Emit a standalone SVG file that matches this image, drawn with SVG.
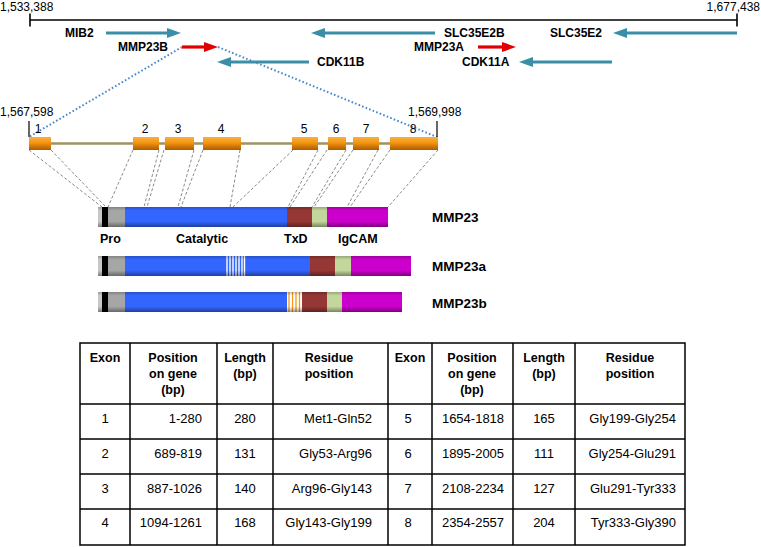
<svg xmlns="http://www.w3.org/2000/svg" width="761" height="547" viewBox="0 0 761 547">
<style>
text{font-family:"Liberation Sans",Arial,sans-serif;fill:#000}
.num{font-size:12px}
.gl{font-size:12px;font-weight:bold}
.dl{font-size:12.5px;font-weight:bold}
.pl{font-size:13.5px;font-weight:bold}
.th{font-size:12.5px;font-weight:bold;text-anchor:middle}
.td{font-size:13px}
.c{text-anchor:middle}
.r{text-anchor:end}
.teal{stroke:#3a8ea6;stroke-width:3.2;fill:none}
.red{stroke:#e00000;stroke-width:3.2;fill:none}
.dot{stroke:#4a88cc;stroke-width:2;stroke-dasharray:1.6 2.2;fill:none}
.dash{stroke:#8a8a8a;stroke-width:1;stroke-dasharray:3 2;fill:none}
.exon{fill:url(#og)}
.grid{stroke:#000;stroke-width:1.5;fill:none}
</style>
<defs>
<marker id="mt" markerUnits="userSpaceOnUse" markerWidth="14" markerHeight="10" refX="4" refY="5" orient="auto"><path d="M0,0 L14,5 L0,10 Z" fill="#3a8ea6"/></marker>
<marker id="mr" markerUnits="userSpaceOnUse" markerWidth="14" markerHeight="10" refX="4" refY="5" orient="auto"><path d="M0,0 L14,5 L0,10 Z" fill="#e00000"/></marker>
<linearGradient id="og" x1="0" y1="0" x2="0" y2="1"><stop offset="0" stop-color="#f8b040"/><stop offset="0.45" stop-color="#f39510"/><stop offset="1" stop-color="#b05a00"/></linearGradient>
<linearGradient id="sh" x1="0" y1="0" x2="0" y2="1"><stop offset="0" stop-color="#000" stop-opacity="0.22"/><stop offset="0.18" stop-color="#000" stop-opacity="0"/><stop offset="0.72" stop-color="#000" stop-opacity="0"/><stop offset="1" stop-color="#000" stop-opacity="0.38"/></linearGradient>
</defs>

<g id="scale">
<line x1="30" y1="20" x2="737" y2="20" stroke="#000" stroke-width="1.6"/>
<line x1="30" y1="13.5" x2="30" y2="26.5" stroke="#000" stroke-width="1.6"/>
<line x1="737" y1="13.5" x2="737" y2="26.5" stroke="#000" stroke-width="1.6"/>
<text class="num" x="0" y="10.5">1,533,388</text>
<text class="num r" x="760" y="10.5">1,677,438</text>
</g>

<g id="gene-MIB2"><line class="teal" x1="106" y1="33" x2="171" y2="33" marker-end="url(#mt)"/><text class="gl" x="65" y="37">MIB2</text></g>
<g id="gene-MMP23B"><line class="red" x1="182" y1="47" x2="208" y2="47" marker-end="url(#mr)"/><text class="gl" x="118" y="51">MMP23B</text></g>
<g id="gene-CDK11B"><line class="teal" x1="309" y1="62" x2="227" y2="62" marker-end="url(#mt)"/><text class="gl" x="317" y="66">CDK11B</text></g>
<g id="gene-SLC35E2B"><line class="teal" x1="435" y1="33" x2="321" y2="33" marker-end="url(#mt)"/><text class="gl" x="444" y="37">SLC35E2B</text></g>
<g id="gene-SLC35E2"><line class="teal" x1="737" y1="33" x2="623" y2="33" marker-end="url(#mt)"/><text class="gl" x="550" y="37">SLC35E2</text></g>
<g id="gene-MMP23A"><line class="red" x1="478" y1="47" x2="506" y2="47" marker-end="url(#mr)"/><text class="gl" x="414" y="51">MMP23A</text></g>
<g id="gene-CDK11A"><line class="teal" x1="612" y1="62" x2="529" y2="62" marker-end="url(#mt)"/><text class="gl" x="462" y="66">CDK11A</text></g>

<g id="connectors">
<line class="dot" x1="182" y1="47" x2="29" y2="137"/>
<line class="dot" x1="218" y1="47" x2="437" y2="137"/>
<line class="dash" x1="29" y1="150" x2="102" y2="207"/>
<line class="dash" x1="51" y1="150" x2="106" y2="207"/>
<line class="dash" x1="133" y1="150" x2="108" y2="207"/>
<line class="dash" x1="159" y1="150" x2="144" y2="207"/>
<line class="dash" x1="164" y1="150" x2="147" y2="207"/>
<line class="dash" x1="194" y1="150" x2="178" y2="207"/>
<line class="dash" x1="203" y1="150" x2="181" y2="207"/>
<line class="dash" x1="240" y1="150" x2="230" y2="207"/>
<line class="dash" x1="293" y1="150" x2="233" y2="207"/>
<line class="dash" x1="318" y1="150" x2="288" y2="207"/>
<line class="dash" x1="327" y1="150" x2="290" y2="207"/>
<line class="dash" x1="346" y1="150" x2="312" y2="207"/>
<line class="dash" x1="353" y1="150" x2="314" y2="207"/>
<line class="dash" x1="378" y1="150" x2="347" y2="207"/>
<line class="dash" x1="390" y1="150" x2="350" y2="207"/>
<line class="dash" x1="438" y1="150" x2="388" y2="207"/>
</g>

<g id="gene-structure">
<line x1="29" y1="143.5" x2="438" y2="143.5" stroke="#a09262" stroke-width="2.5"/>
<line x1="29" y1="121" x2="29" y2="137" stroke="#000" stroke-width="1.2"/>
<line x1="437" y1="121" x2="437" y2="137" stroke="#000" stroke-width="1.2"/>
<text class="num" x="0" y="116">1,567,598</text>
<text class="num" x="408" y="116">1,569,998</text>
</g>
<g id="exon1"><rect class="exon" x="29" y="137" width="22" height="13"/><text class="num c" x="38" y="133">1</text></g>
<g id="exon2"><rect class="exon" x="133" y="137" width="26" height="13"/><text class="num c" x="145" y="133">2</text></g>
<g id="exon3"><rect class="exon" x="165" y="137" width="29" height="13"/><text class="num c" x="178" y="133">3</text></g>
<g id="exon4"><rect class="exon" x="203" y="137" width="38" height="13"/><text class="num c" x="221" y="133">4</text></g>
<g id="exon5"><rect class="exon" x="292" y="137" width="26" height="13"/><text class="num c" x="304" y="133">5</text></g>
<g id="exon6"><rect class="exon" x="328" y="137" width="18" height="13"/><text class="num c" x="336" y="133">6</text></g>
<g id="exon7"><rect class="exon" x="353" y="137" width="26" height="13"/><text class="num c" x="366" y="133">7</text></g>
<g id="exon8"><rect class="exon" x="390" y="137" width="48" height="13"/><text class="num c" x="413" y="133">8</text></g>

<g id="protein-MMP23">
<rect x="98" y="207" width="4" height="20" fill="#c8c8c8"/>
<rect x="102" y="207" width="6" height="20" fill="#000"/>
<rect x="108" y="207" width="17" height="20" fill="#a6a6a6"/>
<rect x="125" y="207" width="162" height="20" fill="#3366ff"/>
<rect x="287" y="207" width="25" height="20" fill="#953735"/>
<rect x="312" y="207" width="15" height="20" fill="#c3d69b"/>
<rect x="327" y="207" width="61" height="20" fill="#cc00cc"/>
<rect x="98" y="207" width="290" height="20" fill="url(#sh)"/>
<text class="pl" x="432" y="222">MMP23</text>
<text class="dl" x="100" y="243">Pro</text>
<text class="dl" x="176" y="243">Catalytic</text>
<text class="dl" x="284" y="243">TxD</text>
<text class="dl" x="338" y="243">IgCAM</text>
</g>

<g id="protein-MMP23a">
<rect x="98" y="256" width="4" height="20" fill="#c8c8c8"/>
<rect x="102" y="256" width="6" height="20" fill="#000"/>
<rect x="108" y="256" width="17" height="20" fill="#a6a6a6"/>
<rect x="125" y="256" width="185" height="20" fill="#3366ff"/>
<g stroke="#ffffff" stroke-width="1.4">
<line x1="227" y1="256" x2="227" y2="276"/><line x1="230" y1="256" x2="230" y2="276"/><line x1="233" y1="256" x2="233" y2="276"/><line x1="236" y1="256" x2="236" y2="276"/><line x1="239" y1="256" x2="239" y2="276"/><line x1="242" y1="256" x2="242" y2="276"/><line x1="244.5" y1="256" x2="244.5" y2="276"/>
</g>
<rect x="310" y="256" width="25" height="20" fill="#953735"/>
<rect x="335" y="256" width="16" height="20" fill="#c3d69b"/>
<rect x="351" y="256" width="60" height="20" fill="#cc00cc"/>
<rect x="98" y="256" width="313" height="20" fill="url(#sh)"/>
<text class="pl" x="432" y="271">MMP23a</text>
</g>

<g id="protein-MMP23b">
<rect x="98" y="292" width="4" height="20" fill="#c8c8c8"/>
<rect x="102" y="292" width="6" height="20" fill="#000"/>
<rect x="108" y="292" width="17" height="20" fill="#a6a6a6"/>
<rect x="125" y="292" width="162" height="20" fill="#3366ff"/>
<rect x="287" y="292" width="15" height="20" fill="#ffffff"/>
<g stroke="#f39a1e" stroke-width="1.3">
<line x1="289" y1="292" x2="289" y2="312"/><line x1="292.5" y1="292" x2="292.5" y2="312"/><line x1="296" y1="292" x2="296" y2="312"/><line x1="299.5" y1="292" x2="299.5" y2="312"/>
</g>
<rect x="302" y="292" width="25" height="20" fill="#953735"/>
<rect x="327" y="292" width="15" height="20" fill="#c3d69b"/>
<rect x="342" y="292" width="60" height="20" fill="#cc00cc"/>
<rect x="98" y="292" width="304" height="20" fill="url(#sh)"/>
<text class="pl" x="432" y="308">MMP23b</text>
</g>

<g id="table">
<rect class="grid" x="80" y="343" width="605" height="202"/>
<g class="grid">
<line x1="80" y1="404" x2="685" y2="404"/>
<line x1="80" y1="439" x2="685" y2="439"/>
<line x1="80" y1="474" x2="685" y2="474"/>
<line x1="80" y1="509" x2="685" y2="509"/>
<line x1="130" y1="343" x2="130" y2="545"/>
<line x1="217" y1="343" x2="217" y2="545"/>
<line x1="273" y1="343" x2="273" y2="545"/>
<line x1="388" y1="343" x2="388" y2="545"/>
<line x1="432" y1="343" x2="432" y2="545"/>
<line x1="513" y1="343" x2="513" y2="545"/>
<line x1="575" y1="343" x2="575" y2="545"/>
</g>
<text class="th" x="105" y="362">Exon</text>
<text class="th" x="173" y="362">Position</text><text class="th" x="173" y="378">on gene</text><text class="th" x="173" y="394">(bp)</text>
<text class="th" x="245" y="362">Length</text><text class="th" x="245" y="378">(bp)</text>
<text class="th" x="329" y="362">Residue</text><text class="th" x="329" y="378">position</text>
<text class="th" x="410" y="362">Exon</text>
<text class="th" x="472" y="362">Position</text><text class="th" x="472" y="378">on gene</text><text class="th" x="472" y="394">(bp)</text>
<text class="th" x="544" y="362">Length</text><text class="th" x="544" y="378">(bp)</text>
<text class="th" x="630" y="362">Residue</text><text class="th" x="630" y="378">position</text>

<text class="td c" x="105" y="423">1</text><text class="td r" x="202" y="423">1-280</text><text class="td c" x="245" y="423">280</text><text class="td r" x="372" y="423">Met1-Gln52</text>
<text class="td c" x="408" y="423">5</text><text class="td c" x="473" y="423">1654-1818</text><text class="td c" x="544" y="423">165</text><text class="td r" x="676" y="423">Gly199-Gly254</text>

<text class="td c" x="105" y="457.5">2</text><text class="td r" x="202" y="457.5">689-819</text><text class="td c" x="245" y="457.5">131</text><text class="td r" x="372" y="457.5">Gly53-Arg96</text>
<text class="td c" x="408" y="457.5">6</text><text class="td c" x="473" y="457.5">1895-2005</text><text class="td c" x="544" y="457.5">111</text><text class="td r" x="676" y="457.5">Gly254-Glu291</text>

<text class="td c" x="105" y="492.5">3</text><text class="td r" x="202" y="492.5">887-1026</text><text class="td c" x="245" y="492.5">140</text><text class="td r" x="372" y="492.5">Arg96-Gly143</text>
<text class="td c" x="408" y="492.5">7</text><text class="td c" x="473" y="492.5">2108-2234</text><text class="td c" x="544" y="492.5">127</text><text class="td r" x="676" y="492.5">Glu291-Tyr333</text>

<text class="td c" x="105" y="527">4</text><text class="td r" x="202" y="527">1094-1261</text><text class="td c" x="245" y="527">168</text><text class="td r" x="372" y="527">Gly143-Gly199</text>
<text class="td c" x="408" y="527">8</text><text class="td c" x="473" y="527">2354-2557</text><text class="td c" x="544" y="527">204</text><text class="td r" x="676" y="527">Tyr333-Gly390</text>
</g>
</svg>
